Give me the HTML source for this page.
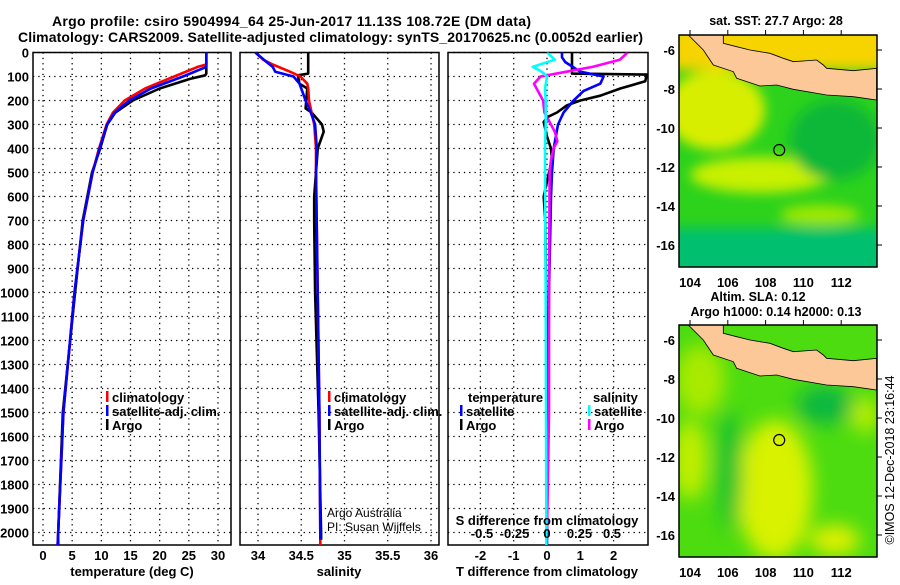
<!DOCTYPE html>
<html><head><meta charset="utf-8"><style>
body{margin:0;background:#fff;}
svg text{font-family:"Liberation Sans",sans-serif;font-weight:bold;fill:#000;}
</style></head><body>
<svg id="c" width="900" height="580" viewBox="0 0 900 580" xmlns="http://www.w3.org/2000/svg">
<text x="52" y="26" font-size="14" textLength="479">Argo profile: csiro 5904994_64 25-Jun-2017 11.13S 108.72E (DM data)</text>
<text x="18" y="42" font-size="14" textLength="625">Climatology: CARS2009. Satellite-adjusted climatology: synTS_20170625.nc (0.0052d earlier)</text>
<g id="plots"></g>
<g id="maps"></g>
</svg>
<script>
// ---- data ----
const argoTDepth=[0,88,95,110,150,200,250,300,400,500,700,1000,1500,2000,2054];
const argoT=[28,28,27.8,25.2,20,15.4,12.4,11,9.8,8.4,6.8,5.5,3.4,2.6,2.6];
const climTDepth=[0,50,60,100,150,200,250,300,400,500,700,1000,1500,2000,2054];
const climT=[28,28,26.5,22.5,17.5,14,12,10.9,9.6,8.5,6.9,5.4,3.5,2.6,2.5];
const satTDepth=[0,60,100,150,200,250,300,400,500,700,1000,1500,2000,2054];
const satT=[28,28,24,18.5,14.8,12.3,11,9.7,8.5,6.9,5.4,3.5,2.6,2.5];
const argoSDepth=[0,88,95,130,150,233,250,300,330,370,400,500,600,700,1000,1500,2000,2030];
const argoS=[34.58,34.58,34.46,34.48,34.57,34.55,34.62,34.74,34.76,34.72,34.69,34.67,34.65,34.65,34.66,34.7,34.73,34.73];
const climSDepth=[0,30,50,80,100,130,150,200,250,300,400,500,1000,1500,2000,2054];
const climS=[33.97,34.06,34.17,34.37,34.49,34.57,34.58,34.59,34.62,34.65,34.67,34.67,34.69,34.71,34.72,34.72];
const satSDepth=[0,40,60,80,100,130,200,250,300,400,500,1000,1500,2000,2030];
const satS=[33.97,34.1,34.17,34.2,34.41,34.48,34.55,34.61,34.66,34.68,34.67,34.69,34.71,34.72,34.72];
const dTArgoDepth=[0,88,92,120,150,180,200,220,250,270,290,350,400,450,500,600,700,1000,1500,2000];
const dTArgo=[0.75,0.75,3.0,2.95,2.2,1.6,1.0,0.6,0.3,0,-0.1,0,0.12,0.15,0.06,-0.1,-0.05,-0.03,0,0];
const dTSatDepth=[0,20,40,80,100,130,160,200,250,300,400,500,600,1000,1500,2000,2054];
const dTSat=[0.45,0.45,0.55,1.0,1.7,1.6,1.1,0.8,0.5,0.33,0.2,0.15,0.12,0.06,0.03,0,0];
const dSArgoDepth=[0,30,60,80,100,130,150,180,200,250,300,330,370,400,450,500,1000,1500,2000];
const dSArgo=[0.62,0.56,0.35,0.15,-0.05,-0.1,-0.08,-0.05,-0.03,-0.02,0.03,0.06,0.08,0.05,0.03,0.02,0.015,0.015,0];
const dSSatDepth=[0,30,60,80,100,150,200,300,400,500,1000,1500,2000,2054];
const dSSat=[0,0.06,-0.11,-0.04,0,-0.015,-0.01,-0.01,-0.015,-0.015,-0.01,-0.008,-0.005,-0.005];
const depthTicks=[0,100,200,300,400,500,600,700,800,900,1000,1100,1200,1300,1400,1500,1600,1700,1800,1900,2000];
const tTicks=[0,5,10,15,20,25,30];
const sTicks=[34,34.5,35,35.5,36];
const sTickLabels=["34","34.5","35","35.5","36"];
const dTTicks=[-2,-1,0,1,2];
const dSTicks=[-0.5,-0.25,0,0.25,0.5];
const dSTickLabels=["-0.5","-0.25","0","0.25","0.5"];
const latTicks=[-6,-8,-10,-12,-14,-16];
const lonTicks=[104,106,108,110,112];

const NS="http://www.w3.org/2000/svg";
function el(tag,attrs,parent,txt){const e=document.createElementNS(NS,tag);for(const k in attrs)e.setAttribute(k,attrs[k]);if(txt!==undefined)e.textContent=txt;parent.appendChild(e);return e;}
const top_=52.5,bot=545;
const yD=d=>52.5+d*0.24;
const panels=[
 {x0:33,x1:231,sx:v=>43+v*5.833,name:'temperature'},
 {x0:240,x1:439,sx:v=>258+(v-34)*86.5,name:'salinity'},
 {x0:448,x1:648,sx:v=>547+v*33.3,name:'difference'}];
const P=document.getElementById('plots');
const sxS3=v=>547+v*130;
panels.forEach((p,i)=>{
  const g=el('g',{},P);
  
  
  const cid='clip'+i;
  const cp=el('clipPath',{id:cid},g);el('rect',{x:p.x0,y:top_,width:p.x1-p.x0,height:bot-top_},cp);
  depthTicks.forEach(d=>{const l=el('line',{x1:p.x0,x2:p.x1,y1:yD(d),y2:yD(d),stroke:'#000','stroke-width':1.3,'stroke-dasharray':'1.3 4'},g);
    });
  const xt=i==0?tTicks:i==1?sTicks:dTTicks;
  xt.forEach(v=>{const l=el('line',{x1:p.sx(v),x2:p.sx(v),y1:top_,y2:bot,stroke:'#000','stroke-width':1.3,'stroke-dasharray':'1.3 4'},g);
    });
  const fr=el('rect',{x:p.x0,y:top_,width:p.x1-p.x0,height:bot-top_,fill:'none',stroke:'#000','stroke-width':1.5},g);
  
  g.clip=cid;p.g=g;
});
depthTicks.forEach(d=>{const t=el('text',{x:29,y:yD(d)+5,'font-size':13,'text-anchor':'end'},P,String(d));
  });
tTicks.forEach(v=>{const t=el('text',{x:panels[0].sx(v),y:560,'font-size':13,'text-anchor':'middle'},P,String(v));
  });
sTicks.forEach((v,k)=>{const t=el('text',{x:panels[1].sx(v),y:560,'font-size':13,'text-anchor':'middle'},P,sTickLabels[k]);
  });
dTTicks.forEach(v=>{const t=el('text',{x:panels[2].sx(v),y:560,'font-size':13,'text-anchor':'middle'},P,String(v));
  });
dSTicks.forEach((v,k)=>{const t=el('text',{x:sxS3(v),y:538,'font-size':13,'text-anchor':'middle'},P,dSTickLabels[k]);
  });
[['temperature (deg C)',132,'x-axis-title-temperature'],['salinity',339,'x-axis-title-salinity'],['T difference from climatology',547,'x-axis-title-t-diff']].forEach(a=>{
  const t=el('text',{x:a[1],y:576,'font-size':13,'text-anchor':'middle'},P,a[0]);});
{const t=el('text',{x:547,y:525,'font-size':13,'text-anchor':'middle'},P,'S difference from climatology');}
function line(pi,xs,ds,sx,col,name){
  const p=panels[pi];const pts=xs.map((v,k)=>sx(v).toFixed(1)+','+yD(ds[k]).toFixed(1)).join(' ');
  const l=el('polyline',{points:pts,fill:'none',stroke:col,'stroke-width':2.6,'clip-path':'url(#'+p.g.clip+')','stroke-linejoin':'round'},p.g);
  }
line(0,argoT,argoTDepth,panels[0].sx,'#000','argo-temperature-line');
line(0,climT,climTDepth,panels[0].sx,'#f00','climatology-temperature-line');
line(0,satT,satTDepth,panels[0].sx,'#00f','satellite-temperature-line');
line(1,argoS,argoSDepth,panels[1].sx,'#000','argo-salinity-line');
line(1,climS,climSDepth,panels[1].sx,'#f00','climatology-salinity-line');
line(1,satS,satSDepth,panels[1].sx,'#00f','satellite-salinity-line');
line(2,dTArgo,dTArgoDepth,panels[2].sx,'#000','argo-t-diff-line');
line(2,dTSat,dTSatDepth,panels[2].sx,'#00f','satellite-t-diff-line');
line(2,dSArgo,dSArgoDepth,sxS3,'#f0f','argo-s-diff-line');
line(2,dSSat,dSSatDepth,sxS3,'#0ff','satellite-s-diff-line');
function leg(x,y,col,txt,name){const g=el('g',{},P);
  if(col)el('rect',{x:x,y:y-11,width:2.5,height:11,fill:col},g);
  const t=el('text',{x:x+6,y:y,'font-size':13},g,txt);
  }
leg(106,402,'#f00','climatology','legend-climatology');
leg(106,416,'#00f','satellite-adj. clim.','legend-satellite-adj');
leg(106,430,'#000','Argo','legend-argo');
leg(328,402,'#f00','climatology','legend2-climatology');
leg(328,416,'#00f','satellite-adj. clim.','legend2-satellite-adj');
leg(328,430,'#000','Argo','legend2-argo');
leg(462,402,null,'temperature','legend-temperature-heading');
leg(460,416,'#00f','satellite','legend-t-satellite');
leg(460,430,'#000','Argo','legend-t-argo');
leg(587,402,null,'salinity','legend-salinity-heading');
leg(588,416,'#0ff','satellite','legend-s-satellite');
leg(588,430,'#f0f','Argo','legend-s-argo');
{const t=el('text',{x:327,y:517,'font-size':12,style:'font-weight:normal'},P,'Argo Australia');
 const t2=el('text',{x:327,y:531,'font-size':12,style:'font-weight:normal'},P,'PI: Susan Wijffels');}

// ---- maps ----
const M=document.getElementById('maps');
const lonX=lon=>690+(lon-104)*18.9;
const latY=(lat,oy)=>oy+50+(-6-lat)*19.5;
const landPts="85,105 190,105 190,130 230,140 270,150 330,160 370,175 400,185 470,180 490,195 500,205 580,212 650,205 650,300 580,290 500,285 400,268 350,255 300,258 230,235 220,215 160,195 130,150";
function map(oy,kind,name){
  const g=el('g',{},M);
  const cid='mclip'+oy;const cp=el('clipPath',{id:cid},g);el('rect',{x:679,y:oy+35,width:198,height:232},cp);
  const f=el('filter',{id:'blur'+oy,x:'-50%',y:'-50%',width:'200%',height:'200%'},g);el('feGaussianBlur',{stdDeviation:kind=='sst'?6:9},f);
  const inner=el('g',{'clip-path':'url(#'+cid+')'},g);
  if(kind=='sst'){
    el('rect',{x:679,y:oy+35,width:198,height:232,fill:'#2cd21c'},inner);
    const b=el('g',{filter:'url(#blur'+oy+')'},inner);
    el('rect',{x:670,y:oy+25,width:220,height:45,fill:'#f7d400'},b);
    el('ellipse',{cx:715,cy:oy+110,rx:50,ry:40,fill:'#d8ee00'},b);
    el('ellipse',{cx:760,cy:oy+175,rx:70,ry:18,fill:'#c8f000'},b);
    el('ellipse',{cx:820,cy:oy+215,rx:40,ry:10,fill:'#a0e800'},b);
    el('rect',{x:670,y:oy+228,width:220,height:50,fill:'#00c070'},b);
    el('ellipse',{cx:835,cy:oy+140,rx:45,ry:40,fill:'#0ab838'},b);
  } else {
    el('rect',{x:679,y:oy+35,width:198,height:232,fill:'#4cdc10'},inner);
    const b=el('g',{filter:'url(#blur'+oy+')'},inner);
    el('ellipse',{cx:775,cy:oy+200,rx:38,ry:70,fill:'#d8f200'},b);
    el('ellipse',{cx:690,cy:oy+170,rx:18,ry:40,fill:'#c0ee00'},b);
    el('ellipse',{cx:700,cy:oy+90,rx:25,ry:35,fill:'#a8ea00'},b);
    el('ellipse',{cx:825,cy:oy+115,rx:28,ry:20,fill:'#10b840'},b);
    el('ellipse',{cx:730,cy:oy+180,rx:12,ry:60,fill:'#18c030'},b);
    el('ellipse',{cx:865,cy:oy+125,rx:14,ry:18,fill:'#b8ee00'},b);
    el('ellipse',{cx:835,cy:oy+250,rx:25,ry:15,fill:'#e0f000'},b);
  }
  const land=el('polygon',{points:landPts,fill:'#fcc898',stroke:'#000','stroke-width':2.5,transform:'translate(660,'+oy+') scale(0.3333)'},inner);
  
  const pos=el('circle',{cx:lonX(108.72),cy:latY(-11.13,oy),r:5.5,fill:'none',stroke:'#000','stroke-width':1.2},g);
  
  el('rect',{x:679,y:oy+35,width:198,height:232,fill:'none',stroke:'#000','stroke-width':1.5},g);
  latTicks.forEach(v=>{const y=latY(v,oy);el('line',{x1:877,x2:882,y1:y,y2:y,stroke:'#000'},g);
    const t=el('text',{x:675,y:y+5,'font-size':13,'text-anchor':'end'},g,String(v));});
  lonTicks.forEach(v=>{const x=lonX(v);el('line',{x1:x,x2:x,y1:oy+30,y2:oy+35,stroke:'#000'},g);
    const t=el('text',{x:x,y:oy+287,'font-size':13,'text-anchor':'middle'},g,String(v));});
}
map(0,'sst','sst-map');
map(290,'sla','sla-map');
[['sat. SST: 27.7 Argo: 28',776,25,'sst-map-title'],['Altim. SLA: 0.12',758,301,'sla-map-title'],['Argo h1000: 0.14 h2000: 0.13',776,316,'sla-map-subtitle']].forEach(a=>{
  const t=el('text',{x:a[1],y:a[2],'font-size':12.5,'text-anchor':'middle'},M,a[0]);});
{const t=el('text',{x:0,y:0,'font-size':12.5,'text-anchor':'middle',transform:'translate(894,460) rotate(-90)',style:'font-weight:normal'},M,'©IMOS 12-Dec-2018 23:16:44');
 }
</script>
</body></html>
